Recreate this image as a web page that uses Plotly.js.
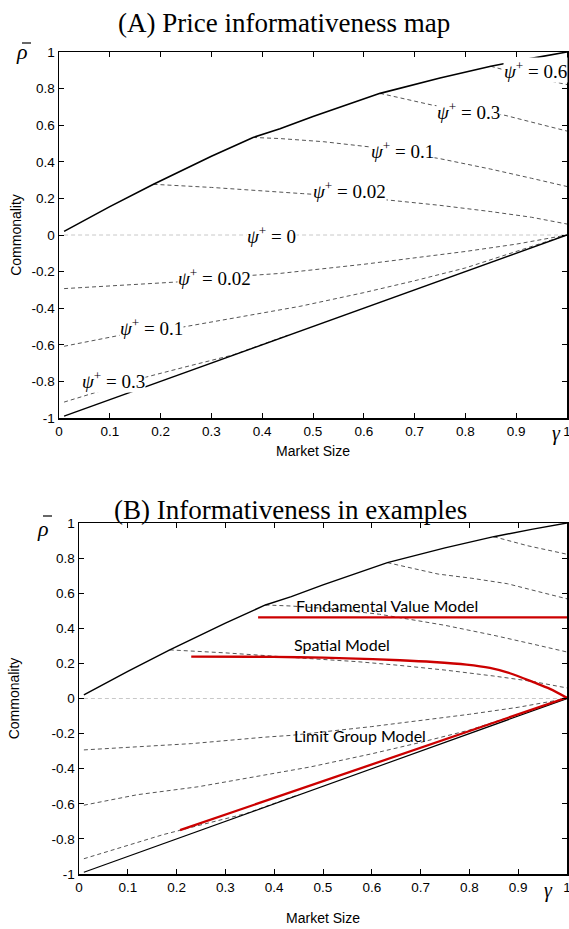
<!DOCTYPE html>
<html>
<head>
<meta charset="utf-8">
<script src="https://cdn.plot.ly/plotly-3.0.1.min.js"></script>
<style>html,body{margin:0;padding:0;background:#fff;}#chart{width:569px;height:929px;}</style>
</head>
<body>
<div id="chart"></div>
<script>
// ---------- data ----------
const upperX = [0.01, 0.1, 0.186, 0.3, 0.382, 0.435, 0.5, 0.632, 0.75, 0.85, 0.93, 1];
const upperY = [0.02, 0.155, 0.277, 0.43, 0.533, 0.58, 0.647, 0.774, 0.858, 0.922, 0.965, 1];
const lowerX = [0.01, 1];
const lowerY = [-0.99, 0];

const psi0X = [0.01, 1];
const psi0Y = [0, 0];
const psi002UpX = [0.186, 0.3, 0.48, 0.57, 0.652, 0.75, 0.85, 0.93, 1];
const psi002UpY = [0.277, 0.26, 0.226, 0.21, 0.19, 0.162, 0.128, 0.097, 0.06];
const psi01UpX = [0.382, 0.435, 0.52, 0.616, 0.75, 0.85, 0.93, 1];
const psi01UpY = [0.533, 0.527, 0.51, 0.48, 0.417, 0.36, 0.31, 0.265];
const psi03UpX = [0.632, 0.736, 0.805, 0.878, 0.94, 1];
const psi03UpY = [0.774, 0.709, 0.685, 0.654, 0.61, 0.568];
const psi06UpX = [0.85, 0.92, 1];
const psi06UpY = [0.922, 0.87, 0.822];
const psi002LoX = [0.01, 0.231, 0.382, 0.435, 0.6, 0.8, 0.9, 1];
const psi002LoY = [-0.293, -0.257, -0.22, -0.21, -0.16, -0.09, -0.05, 0];
const psi01LoX = [0.01, 0.12, 0.244, 0.474, 0.6, 0.7, 0.8, 0.9, 1];
const psi01LoY = [-0.608, -0.548, -0.503, -0.39, -0.315, -0.25, -0.18, -0.092, 0];
const psi03LoX = [0.01, 0.172, 0.25, 0.343, 0.45];
const psi03LoY = [-0.913, -0.776, -0.72, -0.655, -0.548];

const fundX = [0.367, 1];
const fundY = [0.462, 0.462];
const spatialX = [0.23, 0.35, 0.45, 0.55, 0.658, 0.726, 0.794, 0.842, 0.883, 0.931, 0.965, 1];
const spatialY = [0.239, 0.238, 0.235, 0.229, 0.218, 0.208, 0.193, 0.174, 0.144, 0.093, 0.055, 0.004];
const limitX = [0.207, 0.6, 1];
const limitY = [-0.75, -0.376, 0.005];

const xTickVals = [0, 0.1, 0.2, 0.3, 0.4, 0.5, 0.6, 0.7, 0.8, 0.9, 1];
const xTickText = ['0', '0.1', '0.2', '0.3', '0.4', '0.5', '0.6', '0.7', '0.8', '0.9', '1'];
const yTickVals = [-1, -0.8, -0.6, -0.4, -0.2, 0, 0.2, 0.4, 0.6, 0.8, 1];
const yTickText = ['-1', '-0.8', '-0.6', '-0.4', '-0.2', '0', '0.2', '0.4', '0.6', '0.8', '1'];

// contour labels (panel A)
const psiLabelText = ['0.6', '0.3', '0.1', '0.02', '0', '0.02', '0.1', '0.3'];
const psiLabelX = [0.937, 0.807, 0.677, 0.571, 0.419, 0.307, 0.183, 0.108];
const psiLabelY = [0.90, 0.68, 0.463, 0.244, 0.0, -0.23, -0.50, -0.79];

// model labels (panel B)
const modelNames = ['Fundamental Value Model', 'Spatial Model', 'Limit Group Model'];
const modelLabelX = [0.632, 0.539, 0.576];
const modelLabelY = [0.528, 0.31, -0.21];

// ---------- traces ----------
const DASH = '4px,3px';
const GRAY = '#555555';
function panel(xa, ya, solidW) {
  const t = [];
  const add = (x, y, color, width, dash) => t.push({
    x: x, y: y, xaxis: xa, yaxis: ya, type: 'scatter', mode: 'lines',
    line: {color: color, width: width, dash: dash || 'solid'}, hoverinfo: 'skip', showlegend: false
  });
  add(psi0X, psi0Y, '#c8c8c8', 1, DASH);
  add(psi002UpX, psi002UpY, GRAY, 1, DASH);
  add(psi01UpX, psi01UpY, GRAY, 1, DASH);
  add(psi03UpX, psi03UpY, GRAY, 1, DASH);
  add(psi06UpX, psi06UpY, GRAY, 1, DASH);
  add(psi002LoX, psi002LoY, GRAY, 1, DASH);
  add(psi01LoX, psi01LoY, GRAY, 1, DASH);
  add(psi03LoX, psi03LoY, GRAY, 1, DASH);
  add(upperX, upperY, '#000', solidW);
  add(lowerX, lowerY, '#000', solidW * 0.85);
  return t;
}
const data = panel('x', 'y', 1.6).concat(panel('x2', 'y2', 1.4));
data.push({x: fundX, y: fundY, xaxis: 'x2', yaxis: 'y2', type: 'scatter', mode: 'lines',
  line: {color: '#cc0000', width: 2.3}, hoverinfo: 'skip', showlegend: false});
data.push({x: spatialX, y: spatialY, xaxis: 'x2', yaxis: 'y2', type: 'scatter', mode: 'lines',
  line: {color: '#cc0000', width: 2.3, shape: 'spline', smoothing: 0.8}, hoverinfo: 'skip', showlegend: false});
data.push({x: limitX, y: limitY, xaxis: 'x2', yaxis: 'y2', type: 'scatter', mode: 'lines',
  line: {color: '#cc0000', width: 2.3}, hoverinfo: 'skip', showlegend: false});

// ---------- layout ----------
const W = 569, H = 929;
const px = v => v / W;
const py = v => 1 - v / H;
const sans = 'Liberation Sans, Arial, Helvetica, sans-serif';
const serif = 'Liberation Serif, Times New Roman, serif';

function xAxis(domain, anchor, standoff) {
  return {
    domain: domain, anchor: anchor, range: [0, 1], tickmode: 'array',
    tickvals: xTickVals, ticktext: xTickText, ticks: 'inside', ticklen: 5, tickwidth: 1,
    tickcolor: '#000', showline: true, mirror: 'ticks', linecolor: '#000', linewidth: 1.5,
    showgrid: false, zeroline: false, fixedrange: true, ticklabeloverflow: 'allow',
    tickfont: {family: sans, size: 13.5, color: '#000'},
    title: {text: 'Market Size', font: {family: sans, size: 14, color: '#000'}, standoff: standoff},
    automargin: false
  };
}
function yAxis(domain, anchor, standoff) {
  return {
    domain: domain, anchor: anchor, range: [-1, 1], tickmode: 'array',
    tickvals: yTickVals, ticktext: yTickText, ticks: 'inside', ticklen: 5, tickwidth: 1,
    tickcolor: '#000', showline: true, mirror: 'ticks', linecolor: '#000', linewidth: 1.5,
    showgrid: false, zeroline: false, fixedrange: true, ticklabeloverflow: 'allow',
    tickfont: {family: sans, size: 13.5, color: '#000'},
    title: {text: 'Commonality', font: {family: sans, size: 14, color: '#000'}, standoff: standoff},
    automargin: false
  };
}

const annotations = [];
// panel titles
annotations.push({xref: 'paper', yref: 'paper', x: px(284), y: py(23), xanchor: 'center', yanchor: 'middle',
  text: '(A) Price informativeness map', showarrow: false, font: {family: serif, size: 27, color: '#000'}});
annotations.push({xref: 'paper', yref: 'paper', x: px(290), y: py(510), xanchor: 'center', yanchor: 'middle',
  text: '(B) Informativeness in examples', showarrow: false, font: {family: serif, size: 27, color: '#000'}});
// rho-bar and gamma
annotations.push({xref: 'paper', yref: 'paper', x: px(22), y: py(52), xanchor: 'center', yanchor: 'middle',
  text: '<i>ρ</i>', showarrow: false, font: {family: serif, size: 22, color: '#000'}});
annotations.push({xref: 'paper', yref: 'paper', x: px(43), y: py(528), xanchor: 'center', yanchor: 'middle',
  text: '<i>ρ</i>', showarrow: false, font: {family: serif, size: 22, color: '#000'}});
annotations.push({xref: 'paper', yref: 'paper', x: px(556), y: py(434), xanchor: 'center', yanchor: 'middle',
  text: '<i>γ</i>', showarrow: false, font: {family: serif, size: 20, color: '#000'}});
annotations.push({xref: 'paper', yref: 'paper', x: px(548), y: py(890), xanchor: 'center', yanchor: 'middle',
  text: '<i>γ</i>', showarrow: false, font: {family: serif, size: 20, color: '#000'}});
// psi labels
for (let i = 0; i < psiLabelText.length; i++) {
  annotations.push({xref: 'x', yref: 'y', x: psiLabelX[i], y: psiLabelY[i], xanchor: 'center', yanchor: 'middle',
    text: '<i>ψ</i><sup>+</sup> = ' + psiLabelText[i], showarrow: false, bgcolor: '#ffffff', borderpad: 0,
    font: {family: serif, size: 19, color: '#000'}});
}
// model labels
for (let i = 0; i < modelNames.length; i++) {
  annotations.push({xref: 'x2', yref: 'y2', x: modelLabelX[i], y: modelLabelY[i], xanchor: 'center', yanchor: 'middle',
    text: modelNames[i], showarrow: false, font: {family: 'Lato, Open Sans, sans-serif', size: 16, color: '#000'}});
}

const shapes = [
  {type: 'line', xref: 'paper', yref: 'paper', x0: px(22), x1: px(31), y0: py(43), y1: py(43), line: {color: '#000', width: 1.2}},
  {type: 'line', xref: 'paper', yref: 'paper', x0: px(43), x1: px(52), y0: py(516), y1: py(516), line: {color: '#000', width: 1.2}}
];

const layout = {
  width: W, height: H, margin: {l: 0, r: 0, t: 0, b: 0, pad: 0},
  paper_bgcolor: '#fff', plot_bgcolor: '#fff', showlegend: false,
  xaxis: xAxis([px(59), px(567)], 'y', 8),
  yaxis: yAxis([py(418), py(52)], 'x', 6),
  xaxis2: xAxis([px(79), px(567)], 'y2', 19),
  yaxis2: yAxis([py(874), py(523)], 'x2', 28),
  annotations: annotations, shapes: shapes
};

Plotly.newPlot('chart', data, layout, {displayModeBar: false, staticPlot: true});
</script>
</body>
</html>
